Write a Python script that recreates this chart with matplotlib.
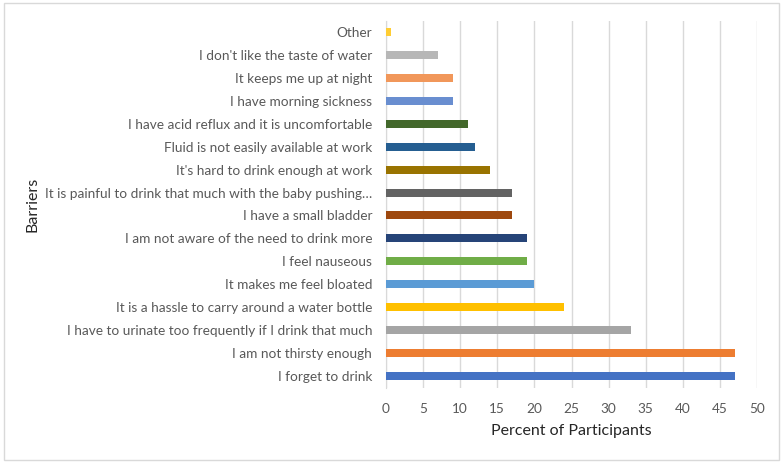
import matplotlib
matplotlib.use("Agg")
import matplotlib.pyplot as plt
from matplotlib.patches import Rectangle

# Barriers, listed bottom to top as drawn
barriers = [
    "I forget to drink",
    "I am not thirsty enough",
    "I have to urinate too frequently if I drink that much",
    "It is a hassle to carry around a water bottle",
    "It makes me feel bloated",
    "I feel nauseous",
    "I am not aware of the need to drink more",
    "I have a small bladder",
    "It is painful to drink that much with the baby pushing\u2026",
    "It's hard to drink enough at work",
    "Fluid is not easily available at work",
    "I have acid reflux and it is uncomfortable",
    "I have morning sickness",
    "It keeps me up at night",
    "I don't like the taste of water",
    "Other",
]
percents = [47, 47, 33, 24, 20, 19, 19, 17, 17, 14, 12, 11, 9, 9, 7, 0.7]
colors = [
    "#4472C4", "#ED7D31", "#A5A5A5", "#FFC000", "#5B9BD5", "#70AD47",
    "#264478", "#9E480E", "#636363", "#997300", "#255E91", "#43682B",
    "#698ED0", "#F1975A", "#B7B7B7", "#FFCD33",
]
x_ticks = list(range(0, 55, 5))

plt.rcParams["font.family"] = ["Lato", "DejaVu Sans"]

fig = plt.figure(figsize=(7.83, 4.62), dpi=100)
ax = fig.add_axes([386 / 783, 1 - 387.5 / 462, (757 - 386) / 783, (387.5 - 20.5) / 462])

y = list(range(len(barriers)))
ax.barh(y, percents, height=0.35, color=colors, zorder=3)

ax.set_xlim(0, 50)
ax.set_ylim(-0.5, len(barriers) - 0.5)
ax.set_xticks(x_ticks)
ax.set_yticks(y)
ax.set_yticklabels(barriers)
ax.tick_params(axis="both", length=0, labelsize=9.8, colors="#595959")
ax.tick_params(axis="y", pad=10)
ax.tick_params(axis="x", pad=11)
ax.grid(axis="x", color="#D9D9D9", linewidth=1, zorder=0)
for side in ["top", "right", "bottom"]:
    ax.spines[side].set_visible(False)
ax.spines["left"].set_color("#D9D9D9")

ax.set_xlabel("Percent of Participants", fontsize=11.5, color="#262626", labelpad=7)
ax.set_ylabel("Barriers", fontsize=11.5, color="#262626")
ax.yaxis.set_label_coords((33 - 386) / (757 - 386), 0.5)
ax.yaxis.label.set_va("center")

# chart area border
fig.patches.append(Rectangle((4 / 783, 2 / 462), 775 / 783, 457 / 462,
                             transform=fig.transFigure, fill=False,
                             edgecolor="#D9D9D9", linewidth=1))

fig.savefig("out.png", dpi=100)
